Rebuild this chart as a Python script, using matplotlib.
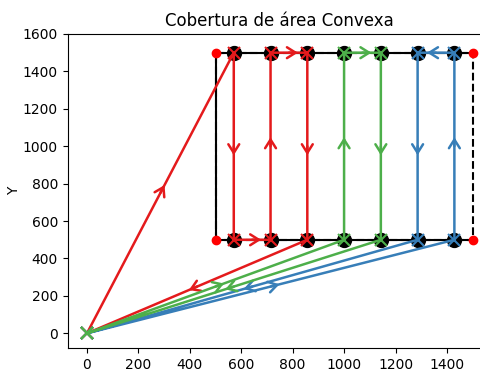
import numpy as np
import matplotlib
matplotlib.use("Agg")
import matplotlib.pyplot as plt

# strip centres (top and bottom visit points)
centres_x = [571, 714, 857, 1000, 1143, 1286, 1429]
top_y = 1500
bottom_y = 500

# area corners
corner_x = [500, 500, 1500, 1500]
corner_y = [500, 1500, 1500, 500]

# paths of each drone
red_x = [0, 571, 571, 714, 714, 857, 857, 0]
red_y = [0, 1500, 500, 500, 1500, 1500, 500, 0]
blue_x = [0, 1429, 1429, 1286, 1286, 0]
blue_y = [0, 500, 1500, 1500, 500, 0]
green_x = [0, 1000, 1000, 1143, 1143, 0]
green_y = [0, 500, 1500, 1500, 500, 0]

labels = ["Dron 1", "Dron 3", "Dron 2"]
colors = ["#e41a1c", "#377eb8", "#4daf4a"]

fig = plt.figure(figsize=(4.81, 3.78), dpi=100)
ax = fig.add_axes([0.1407, 0.0786, 0.882, 0.8315])
ax.set_xlim(-75, 1575)
ax.set_ylim(-80, 1600)

# area boundary
ax.plot([1500, 500, 500, 1500], [500, 500, 1500, 1500], color='black', lw=1.5, zorder=1)
ax.plot(corner_x + [corner_x[0]], corner_y + [corner_y[0]], 'k--', lw=1.5, zorder=1)
ax.plot(corner_x, corner_y, 'o', color='red', markersize=6, zorder=2)

# visit points
ax.plot(centres_x + centres_x, [top_y] * len(centres_x) + [bottom_y] * len(centres_x),
        'o', color='black', markersize=10, zorder=2)

trans = ax.transData
inv = trans.inverted()
for px, py, c, lab in zip([red_x, blue_x, green_x], [red_y, blue_y, green_y], colors, labels):
    ax.plot(px, py, '-x', color=c, lw=1.8, markersize=9, mew=1.5, label=lab, zorder=3)
    for i in range(len(px) - 1):
        a = trans.transform((px[i], py[i]))
        b = trans.transform((px[i + 1], py[i + 1]))
        m = (a + b) / 2
        u = (b - a) / np.hypot(*(b - a))
        tip = inv.transform(m + u * 9)
        base = inv.transform(m)
        ax.annotate('', xy=tuple(tip), xytext=tuple(base),
                    arrowprops=dict(arrowstyle='->,head_length=0.27,head_width=0.17',
                                    color=c, lw=1.8, mutation_scale=23,
                                    shrinkA=0, shrinkB=0), zorder=3)

ax.set_xticks(np.arange(0, 1600, 200))
ax.set_yticks(np.arange(0, 1800, 200))
ax.set_title("Cobertura de área Convexa")
ax.set_xlabel("X")
ax.set_ylabel("Y", labelpad=1)
ax.legend(loc='upper left', bbox_to_anchor=(0.958, 1.0))

fig.savefig("out.png", dpi=100)
